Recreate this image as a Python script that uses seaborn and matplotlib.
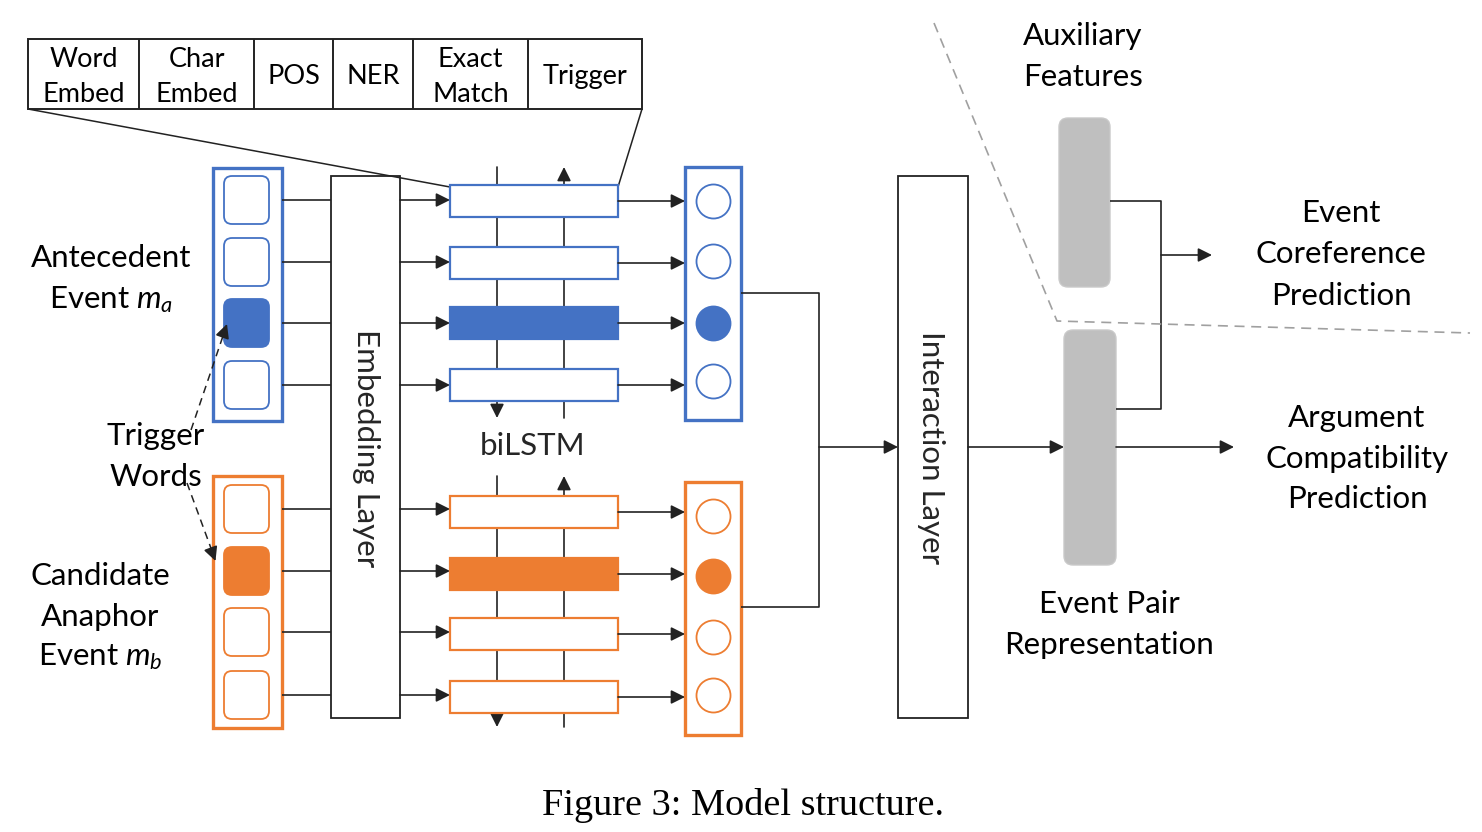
import matplotlib
matplotlib.use("Agg")
import matplotlib.pyplot as plt
from matplotlib.patches import Rectangle, FancyBboxPatch
import seaborn as sns
import pandas as pd

# ---------------- data (labels / structure) ----------------
feature_labels = ["Word\nEmbed", "Char\nEmbed", "POS", "NER", "Exact\nMatch", "Trigger"]
antecedent_label = ["Antecedent", "Event $m_a$"]
anaphor_label = ["Candidate", "Anaphor", "Event $m_b$"]
trigger_label = ["Trigger", "Words"]
aux_label = ["Auxiliary", "Features"]
coref_label = ["Event", "Coreference", "Prediction"]
arg_label = ["Argument", "Compatibility", "Prediction"]
pair_label = ["Event Pair", "Representation"]
layer_names = ["Embedding Layer", "biLSTM", "Interaction Layer"]
caption = "Figure 3: Model structure."
n_tokens = 4
trigger_a = 2      # index of trigger token in antecedent event
trigger_b = 1      # index of trigger token in anaphor event

BLUE = "#4472C4"
ORANGE = "#ED7D31"
GRAY = "#BFBFBF"
DASH = "#A0A0A0"
LINE = "#222222"

sns.set_theme(style="white")
plt.rcParams["font.family"] = ["Lato", "DejaVu Sans"]
plt.rcParams["mathtext.fontset"] = "custom"
plt.rcParams["mathtext.rm"] = "Lato"
plt.rcParams["mathtext.it"] = "Lato:italic"

fig = plt.figure(figsize=(14.82, 8.32), dpi=100)
ax = fig.add_axes([0, 0, 1, 1])
ax.set_xlim(0, 1482)
ax.set_ylim(832, 0)
ax.axis("off")

FS = 22.5
FS_TAB = 19.5


def arrow(x0, y0, x1, y1, lw=1.2, color=LINE):
    ax.annotate("", xy=(x1, y1), xytext=(x0, y0),
                arrowprops=dict(arrowstyle="-|>,head_length=0.6,head_width=0.3",
                                color=color, lw=lw, shrinkA=0, shrinkB=0,
                                mutation_scale=14))


def seg(xs, ys, **kw):
    kw.setdefault("color", LINE)
    kw.setdefault("lw", 1.2)
    ax.plot(xs, ys, solid_capstyle="butt", **kw)


def text_lines(x, baselines, texts, size=FS, **kw):
    for b, t in zip(baselines, texts):
        ax.text(x, b, t, ha="center", va="baseline", fontsize=size, color="black", **kw)


# ---------------- feature table ----------------
tab_x = [28, 139, 254, 333, 413, 528, 642]
ax.add_patch(Rectangle((tab_x[0], 39), tab_x[-1] - tab_x[0], 70, fill=False,
                       edgecolor=LINE, lw=1.4))
for xd in tab_x[1:-1]:
    seg([xd, xd], [39, 109], lw=1.4)
for i, lab in enumerate(feature_labels):
    cx = (tab_x[i] + tab_x[i + 1]) / 2
    parts = lab.split("\n")
    if len(parts) == 2:
        text_lines(cx, [67, 102], parts, size=FS_TAB)
    else:
        text_lines(cx, [84], parts, size=FS_TAB)
# zoom lines to first biLSTM cell
seg([28, 450], [109, 187], lw=1.1)
seg([642, 618], [109, 187], lw=1.1)

# ---------------- event groups ----------------
groups = [
    dict(color=BLUE, rows=[200, 262, 323, 385], lstm=[201, 263, 323, 385],
         circ=[201, 261, 323, 381], col=(168, 421), out=(167, 420), trig=trigger_a,
         vlines=(167, 418)),
    dict(color=ORANGE, rows=[509, 571, 632, 695], lstm=[512, 574, 634, 697],
         circ=[516, 576, 637, 695], col=(476, 728), out=(482, 735), trig=trigger_b,
         vlines=(476, 727)),
]

for g in groups:
    c = g["color"]
    # input column
    ax.add_patch(Rectangle((213, g["col"][0]), 69, g["col"][1] - g["col"][0],
                           fill=False, edgecolor=c, lw=2.4))
    for k, y in enumerate(g["rows"]):
        filled = k == g["trig"]
        ax.add_patch(FancyBboxPatch((224, y - 24), 45, 48,
                                    boxstyle="round,pad=0,rounding_size=8",
                                    facecolor=c if filled else "white",
                                    edgecolor=c, lw=1.3))
        seg([282, 331], [y, y])
        arrow(400, y, 450, y)
    # biLSTM vertical lines
    top, bot = g["vlines"]
    arrow(497, top, 497, bot)
    arrow(564, bot, 564, top)
    for k, y in enumerate(g["lstm"]):
        filled = k == g["trig"]
        ax.add_patch(Rectangle((450, y - 16), 168, 32,
                               facecolor=c if filled else "white",
                               edgecolor=c, lw=1.6, zorder=3))
        arrow(618, y, 685, y)
    # output column
    ax.add_patch(Rectangle((685, g["out"][0]), 56, g["out"][1] - g["out"][0],
                           fill=False, edgecolor=c, lw=2.4))

# output nodes via seaborn scatter
nodes = []
for gi, g in enumerate(groups):
    for k, y in enumerate(g["circ"]):
        nodes.append(dict(x=713, y=y, group=gi, filled=(k == g["trig"])))
nodes = pd.DataFrame(nodes)
for gi, g in enumerate(groups):
    for filled in (True, False):
        sub = nodes[(nodes.group == gi) & (nodes.filled == filled)]
        sns.scatterplot(data=sub, x="x", y="y", ax=ax, s=600,
                        color=g["color"] if filled else "white",
                        edgecolor=g["color"], linewidth=1.3, legend=False, zorder=4)
ax.set_xlim(0, 1482)
ax.set_ylim(832, 0)
ax.axis("off")

# embedding layer
ax.add_patch(Rectangle((331, 176), 69, 542, fill=False, edgecolor=LINE, lw=1.3))
ax.text(366, 448, layer_names[0], rotation=-90, ha="center", va="center", fontsize=FS)
ax.text(533, 446, layer_names[1], ha="center", va="center", fontsize=FS)

# merge into interaction layer
seg([741, 819, 819, 741], [293, 293, 607, 607])
arrow(819, 447, 898, 447)
ax.add_patch(Rectangle((898, 176), 70, 542, fill=False, edgecolor=LINE, lw=1.3))
ax.text(931, 448, layer_names[2], rotation=-90, ha="center", va="center", fontsize=FS)

# event pair representation & auxiliary features
arrow(968, 447, 1064, 447)
ax.add_patch(FancyBboxPatch((1064, 330), 52, 235, boxstyle="round,pad=0,rounding_size=9",
                            facecolor=GRAY, edgecolor="#C9C9C9", lw=1))
ax.add_patch(FancyBboxPatch((1059, 118), 51, 169, boxstyle="round,pad=0,rounding_size=9",
                            facecolor=GRAY, edgecolor="#C9C9C9", lw=1))
arrow(1116, 447, 1234, 447)
seg([1110, 1161, 1161, 1116], [201, 201, 409, 409])
arrow(1161, 255, 1212, 255)

# dashed separator
ax.plot([934, 1057, 1470], [23, 321, 333], color=DASH, lw=1.2, dashes=(6, 4))

# trigger words dashed arrows
ax.plot([191, 224], [430, 333], color=LINE, lw=1.1, dashes=(5, 3.5))
arrow(224.5, 331, 227, 324)
ax.plot([187, 212], [483, 551], color=LINE, lw=1.1, dashes=(5, 3.5))
arrow(212.5, 553, 215.5, 561)

# ---------------- texts ----------------
text_lines(111, [267, 308], antecedent_label)
text_lines(156, [445, 486], trigger_label)
text_lines(100, [585, 626, 665], anaphor_label)
text_lines(1083, [45, 86], aux_label)
text_lines(1341, [222, 263, 305], coref_label)
text_lines(1357, [427, 468, 508], arg_label)
text_lines(1109, [613, 654], pair_label)

ax.text(743, 815, caption, ha="center", va="baseline", fontsize=27.5, color="black",
        family=["Liberation Serif", "DejaVu Serif"])

fig.savefig("out.png", dpi=100, facecolor="white")
